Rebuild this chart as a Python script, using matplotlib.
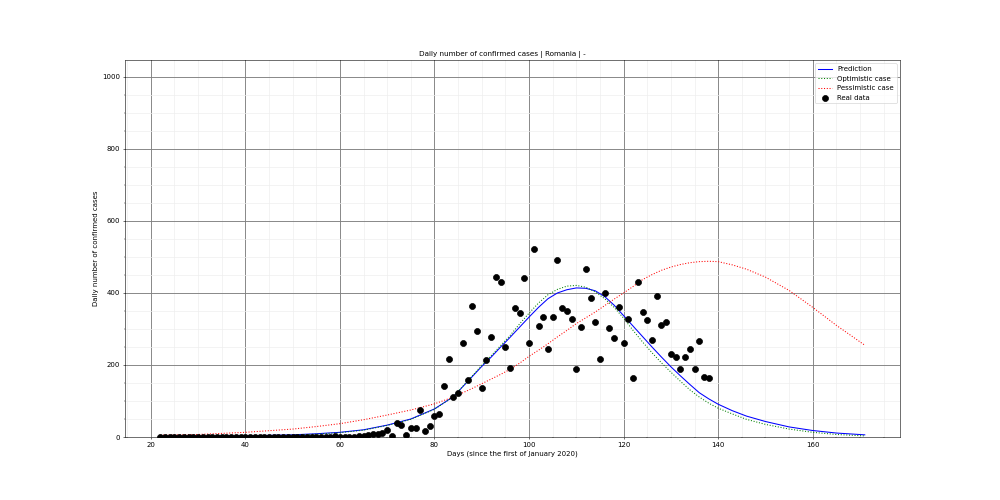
import numpy as np
import matplotlib as mpl
mpl.use('Agg')
import matplotlib.pyplot as plt
import matplotlib.ticker as ticker

######################
## data
######################

# real data: days since 1 Jan 2020 and daily confirmed cases
days = list(range(22, 139))
cases = ([0] * 35 +                                   # days 22..56
         [1, 0, 2, 0, 0, 0, 1, 2, 3, 5, 7, 8, 10, 20, 2,  # days 57..71
          39, 33, 6, 24, 24, 75, 16, 31, 58, 64,          # days 72..81
          142, 216, 112, 121, 260, 158, 363, 295, 136, 214,  # days 82..91
          278, 445, 430, 249, 191, 357, 343, 441, 262, 522,  # days 92..101
          307, 332, 245, 334, 491, 357, 349, 327, 188, 305,  # days 102..111
          466, 386, 320, 216, 400, 303, 275, 361, 260, 327,  # days 112..121
          163, 430, 347, 325, 269, 391, 311, 319, 230, 223,  # days 122..131
          188, 221, 244, 188, 266, 166, 163])               # days 132..138

# model curves
curve_days = [22, 30, 40, 50, 55, 60, 65, 70, 75, 80, 84, 86, 88, 90, 92,
              94, 96, 98, 100, 102, 104, 106, 108, 110, 112, 114, 116, 118,
              120, 122, 124, 126, 128, 130, 132, 134, 136, 138, 140, 143,
              146, 150, 155, 160, 165, 171]
prediction = [2, 2, 3, 6, 9, 13, 20, 33, 50, 78, 112, 140, 168, 196, 222,
              250, 277, 305, 333, 360, 384, 400, 409, 414, 413, 406, 390, 366,
              337, 308, 279, 250, 222, 195, 170, 146, 123, 106, 91, 73,
              58, 43, 28, 18, 11, 6]
optimistic = [1, 1, 2, 5, 8, 12, 19, 32, 49, 77, 112, 141, 170, 199, 226,
              254, 282, 314, 344, 372, 395, 410, 419, 421, 416, 403, 384, 360,
              330, 296, 264, 234, 206, 180, 155, 131, 111, 94, 80, 64,
              49, 35, 22, 13, 7, 3]
pessimistic = [5, 7, 13, 22, 29, 37, 48, 61, 75, 92, 111, 123, 135, 148, 161,
               174, 188, 205, 224, 241, 259, 278, 296, 315, 331, 347, 365, 383,
               400, 418, 437, 451, 463, 472, 479, 484, 487, 488, 487, 478,
               466, 444, 407, 360, 310, 255]

######################
## setup plot
######################

fig = plt.figure(figsize=(20, 10), dpi=50)
ax = fig.add_subplot(111)
fig.subplots_adjust(left=0.125, right=0.9, bottom=0.126, top=0.88)

ax.plot(curve_days, prediction, color='blue', linestyle='-', label='Prediction')
ax.plot(curve_days, optimistic, color='green', linestyle=':', label='Optimistic case')
ax.plot(curve_days, pessimistic, color='red', linestyle=':', label='Pessimistic case')
ax.scatter(days, cases, s=75, color='black', label='Real data', zorder=3)

ax.set_ylim(0, 1047)
ax.yaxis.set_major_locator(ticker.MultipleLocator(200))
ax.xaxis.set_major_locator(ticker.MultipleLocator(20))

ax.grid(which='major', linestyle='-', color='gray', linewidth=1.3)
ax.xaxis.set_minor_locator(ticker.AutoMinorLocator())
ax.yaxis.set_minor_locator(ticker.AutoMinorLocator())
ax.grid(which='minor', linestyle='-', color='#eeeeee', linewidth=1.0)
ax.set_axisbelow(True)
ax.tick_params(labelsize=10)

ax.set_title('Daily number of confirmed cases | Romania | -', fontsize=10.5, x=0.487)
ax.set_xlabel('Days (since the first of January 2020)', fontsize=10)
ax.set_ylabel('Daily number of confirmed cases', fontsize=10)
ax.legend(loc='upper right', fontsize=10)

plt.savefig('out.png')
